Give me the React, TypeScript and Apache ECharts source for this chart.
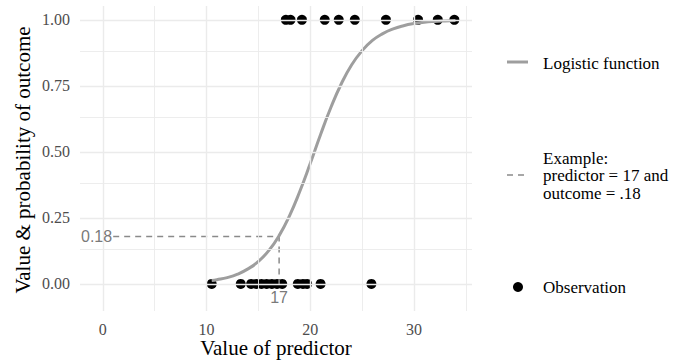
import React, { useEffect, useRef } from "react";
import * as echarts from "echarts";

const xTicks = [0, 10, 20, 30];
const yTicks = [0, 0.25, 0.5, 0.75, 1];
const xGridMajor = [0, 10, 20, 30];
const xGridMinor = [5, 15, 25, 35];
const yGridMajor = [0, 0.25, 0.5, 0.75, 1];
const yGridMinor = [0.125, 0.375, 0.625, 0.875];

// Observations (outcome = 1 and outcome = 0)
const obsX1 = [17.65, 18.1, 19.2, 21.4, 22.75, 24.3, 27.3, 30.4, 32.3, 33.9];
const obsX0 = [10.5, 13.3, 14.3, 14.8, 15.3, 15.8, 16.3, 16.8, 17.3, 18.8, 19.3, 19.7, 21.0, 25.9];

// Logistic curve
const curveX = [10.5, 11, 12, 13, 14, 15, 16, 17, 18, 19, 20, 21, 22, 23, 24, 25, 26, 27, 28, 29, 30, 31, 32, 33, 34];
const curveY = [0.013, 0.016, 0.024, 0.037, 0.057, 0.085, 0.126, 0.183, 0.258, 0.351, 0.456, 0.566, 0.669, 0.758, 0.83, 0.883, 0.922, 0.948, 0.966, 0.978, 0.986, 0.991, 0.994, 0.996, 0.9975];

// Example annotation
const exampleX = 17;
const exampleY = 0.18;
const exampleLineStartX = 1;
const exampleLabelY = "0.18";
const exampleLabelX = "17";

const legendLabels = ["Logistic function", "Example:\npredictor = 17 and\noutcome = .18", "Observation"];

const SERIF = "Liberation Serif";
const SANS = "Liberation Sans";

export default function App() {
  const ref = useRef<HTMLDivElement>(null);
  useEffect(() => {
    document.body.style.margin = "0";
    if (!ref.current) return;
    const chart = echarts.init(ref.current, null, { renderer: "svg" });
    const gridMarks = [
      ...xGridMajor.map((v) => ({ xAxis: v, lineStyle: { width: 1.4 } })),
      ...xGridMinor.map((v) => ({ xAxis: v, lineStyle: { width: 0.9 } })),
      ...yGridMajor.map((v) => ({ yAxis: v, lineStyle: { width: 1.4 } })),
      ...yGridMinor.map((v) => ({ yAxis: v, lineStyle: { width: 0.9 } })),
    ];
    const legendTitle = (text: string, centerY: number, lines: number, lineHeight: number) => ({
      text,
      left: 543,
      top: centerY - (lines * lineHeight) / 2,
      padding: 0,
      itemGap: 0,
      textStyle: {
        fontFamily: SERIF,
        fontSize: 17,
        fontWeight: "normal",
        color: "#000",
        lineHeight,
      },
    });
    chart.setOption({
      animation: false,
      title: [
        legendTitle(legendLabels[0], 63, 1, 20),
        legendTitle(legendLabels[1], 175.5, 3, 17.5),
        legendTitle(legendLabels[2], 287, 1, 20),
      ],
      grid: { left: 80, right: 210, top: 6, bottom: 50 },
      xAxis: {
        type: "value",
        min: -2.2,
        max: 35.6,
        splitLine: { show: false },
        axisLine: { show: false },
        axisTick: { show: false },
        axisLabel: {
          customValues: xTicks,
          margin: 10,
          fontSize: 16,
          fontFamily: SERIF,
          color: "#4d4d4d",
        },
      },
      yAxis: {
        type: "value",
        min: -0.1025,
        max: 1.0525,
        splitLine: { show: false },
        axisLine: { show: false },
        axisTick: { show: false },
        axisLabel: {
          customValues: yTicks,
          margin: 10,
          fontSize: 16,
          fontFamily: SERIF,
          color: "#4d4d4d",
          formatter: (v: number) => v.toFixed(2),
        },
      },
      series: [
        {
          type: "line",
          data: [[0, 0]],
          showSymbol: false,
          lineStyle: { width: 0 },
          silent: true,
          z: 0,
          markLine: {
            silent: true,
            symbol: "none",
            label: { show: false },
            lineStyle: { color: "#ebebeb", type: "solid" },
            data: gridMarks,
          },
        },
        {
          type: "scatter",
          name: "Observation",
          symbol: "circle",
          symbolSize: 10,
          itemStyle: { color: "#000", opacity: 1 },
          data: [...obsX1.map((x) => [x, 1]), ...obsX0.map((x) => [x, 0])],
          z: 2,
        },
        {
          type: "line",
          name: "Example",
          data: [
            [exampleLineStartX, exampleY],
            [exampleX, exampleY],
            [exampleX, 0],
          ],
          showSymbol: false,
          lineStyle: { color: "#8a8a8a", width: 1.5, type: [6, 5] },
          z: 3,
        },
        {
          type: "line",
          name: "Logistic function",
          data: curveX.map((x, i) => [x, curveY[i]]),
          smooth: true,
          showSymbol: false,
          lineStyle: { color: "#9e9e9e", width: 3 },
          z: 4,
        },
        {
          type: "scatter",
          symbolSize: 0,
          silent: true,
          data: [
            [-0.6, exampleY, exampleLabelY],
            [exampleX, -0.05, exampleLabelX],
          ],
          label: {
            show: true,
            position: "inside",
            formatter: (p: any) => p.data[2],
            fontFamily: SANS,
            fontSize: 16,
            color: "#555",
          },
          z: 5,
        },
      ],
      graphic: [
        {
          type: "text",
          x: 276,
          y: 348,
          style: {
            text: "Value of predictor",
            fontFamily: SERIF,
            fontSize: 21,
            fill: "#000",
            align: "center",
            verticalAlign: "middle",
          },
        },
        {
          type: "text",
          x: 23,
          y: 160,
          rotation: Math.PI / 2,
          style: {
            text: "Value & probability of outcome",
            fontFamily: SERIF,
            fontSize: 21,
            fill: "#000",
            align: "center",
            verticalAlign: "middle",
          },
        },
        {
          type: "line",
          shape: { x1: 507, y1: 62, x2: 528, y2: 62 },
          style: { stroke: "#9e9e9e", lineWidth: 3 },
        },
        {
          type: "line",
          shape: { x1: 507, y1: 175, x2: 526, y2: 175 },
          style: { stroke: "#8a8a8a", lineWidth: 1.5, lineDash: [6, 5] },
        },
        {
          type: "circle",
          shape: { cx: 518, cy: 287, r: 5 },
          style: { fill: "#000" },
        },
      ],
    });
    return () => chart.dispose();
  }, []);
  return <div ref={ref} style={{ width: 682, height: 361 }} />;
}
